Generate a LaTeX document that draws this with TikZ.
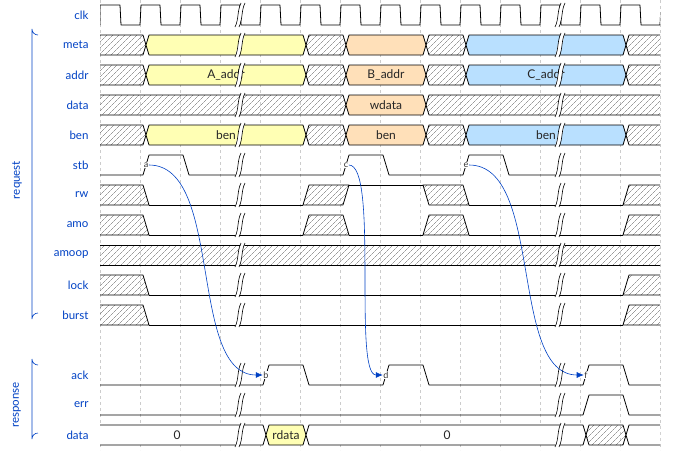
\documentclass[tikz,border=0pt]{standalone}
\usepackage{fontspec}
\setmainfont{Lato}
\usetikzlibrary{patterns.meta,arrows.meta}
\definecolor{wyel}{HTML}{FFFFB4}
\definecolor{wora}{HTML}{FFE0B9}
\definecolor{wblu}{HTML}{B9E0FF}
\definecolor{wlab}{HTML}{0041C4}
\definecolor{warr}{HTML}{0041C4}
\tikzset{
  sig/.style={draw=black,line width=0.8pt,line join=round},
  hatch/.style={sig,pattern={Lines[angle=45,distance=4pt,line width=0.4pt]},pattern color=gray!80!black},
  grid/.style={draw=gray!40,dashed,line width=0.4pt},
  lab/.style={text=wlab,anchor=east,font=\fontsize{11.5}{13}\selectfont},
  txt/.style={font=\fontsize{12}{14}\selectfont,text=black!85},
  evmark/.style={font=\fontsize{9}{10}\selectfont,inner sep=0.5pt,fill=white,text=black!80},
  conn/.style={draw=warr,line width=0.6pt,-{Latex[length=7pt,width=6pt]}},
}
% bus segment: x1,x2,y,style
\newcommand\tdbus[4]{\path[#4] (#1,#3) -- (#1+3,#3-10) -- (#2-3,#3-10) -- (#2,#3) -- (#2-3,#3+10) -- (#1+3,#3+10) -- cycle;}
\newcommand\tdgap[2]{\fill[white] (#1-5,#2+12) -- (#1-1,#2+12) -- (#1+5,#2-12) -- (#1+1,#2-12) -- cycle;
  \draw[line width=0.6pt] (#1-5,#2+12) .. controls (#1-1,#2+4) and (#1-3,#2-4) .. (#1+1,#2-12) (#1-1,#2+12) .. controls (#1+3,#2+4) and (#1+1,#2-4) .. (#1+5,#2-12);}
\begin{document}
\begin{tikzpicture}[x=1pt,y=-1pt]
\useasboundingbox (0,0) rectangle (680,450);
\foreach \k in {0,...,14} \draw[grid] (100+40*\k,0) -- (100+40*\k,450);
% labels
\foreach \n/\t/\y in {l1/clk/15,l2/meta/45,l3/addr/75,l4/data/105,l5/ben/135,l6/stb/165,l7/rw/195,l8/amo/225,l9/amoop/255,l10/lock/285,l11/burst/315,l12/ack/375,l13/err/405,l14/data/435}
  \node[lab] (\n) at (92,\y) {\t};
\draw[wlab,line width=0.6pt] (38,35) arc[start angle=90,end angle=180,radius=6] -- (32,319) arc[start angle=180,end angle=270,radius=6];
\node[text=wlab,rotate=90,font=\fontsize{11.5}{13}\selectfont] (req) at (17,180) {request};
\draw[wlab,line width=0.6pt] (38,365) arc[start angle=90,end angle=180,radius=6] -- (32,439) arc[start angle=180,end angle=270,radius=6];
\node[text=wlab,rotate=90,font=\fontsize{11.5}{13}\selectfont] (resp) at (17,405) {response};
\begin{scope}
\clip (100,0) rectangle (660,450);
% clk
\draw[sig] (100,25) -- (100,5) \foreach \k in {0,...,13} { -- (120+40*\k,5) -- (121+40*\k,25) -- (140+40*\k,25) -- (141+40*\k,5)};
% bus rows
\foreach \y in {45,75,135} {
  \tdbus{94}{146}{\y}{hatch}
  \tdbus{146}{306}{\y}{sig,fill=wyel}
  \tdbus{306}{346}{\y}{hatch}
  \tdbus{346}{426}{\y}{sig,fill=wora}
  \tdbus{426}{466}{\y}{hatch}
  \tdbus{466}{626}{\y}{sig,fill=wblu}
  \tdbus{626}{666}{\y}{hatch}
}
\node[txt] (ta) at (226,75) {A\_addr};
\node[txt] (tb) at (386,75) {B\_addr};
\node[txt] (tc) at (546,75) {C\_addr};
\node[txt] (ba) at (226,135) {ben};
\node[txt] (bb) at (386,135) {ben};
\node[txt] (bc) at (546,135) {ben};
\tdbus{94}{346}{105}{hatch}
\tdbus{346}{426}{105}{sig,fill=wora}
\tdbus{426}{666}{105}{hatch}
\node[txt] (wd) at (386,105) {wdata};
% stb
\draw[sig] (100,175) -- (143,175) -- (149,155) -- (183,155) -- (189,175) -- (343,175) -- (349,155) -- (383,155) -- (389,175) -- (463,175) -- (469,155) -- (503,155) -- (509,175) -- (660,175);
% rw
\path[hatch] (97,185) -- (143,185) -- (149,205) -- (97,205);
\path[hatch] (303,205) -- (309,185) -- (349,185) -- (343,205) -- cycle;
\path[hatch] (423,185) -- (429,205) -- (469,205) -- (463,185) -- cycle;
\path[hatch] (623,205) -- (629,185) -- (663,185) -- (663,205) -- cycle;
\draw[sig] (149,205) -- (303,205) (349,185) -- (423,185) (469,205) -- (623,205);
% amo
\path[hatch] (97,215) -- (143,215) -- (149,235) -- (97,235);
\path[hatch] (303,235) -- (309,215) -- (343,215) -- (349,235) -- cycle;
\path[hatch] (423,235) -- (429,215) -- (463,215) -- (469,235) -- cycle;
\path[hatch] (623,235) -- (629,215) -- (663,215) -- (663,235) -- cycle;
\draw[sig] (149,235) -- (303,235) (349,235) -- (423,235) (469,235) -- (623,235);
% amoop
\path[hatch] (97,245) rectangle (663,265);
% lock, burst
\foreach \y in {285,315} {
  \path[hatch] (97,\y-10) -- (143,\y-10) -- (149,\y+10) -- (97,\y+10);
  \path[hatch] (623,\y+10) -- (629,\y-10) -- (663,\y-10) -- (663,\y+10) -- cycle;
  \draw[sig] (149,\y+10) -- (623,\y+10);
}
% ack
\draw[sig] (100,385) -- (263,385) -- (269,365) -- (303,365) -- (309,385) -- (383,385) -- (389,365) -- (423,365) -- (429,385) -- (583,385) -- (589,365) -- (623,365) -- (629,385) -- (660,385);
% err
\draw[sig] (100,415) -- (583,415) -- (589,395) -- (623,395) -- (629,415) -- (660,415);
% data response
\tdbus{94}{266}{435}{sig,fill=white}
\tdbus{266}{306}{435}{sig,fill=wyel}
\tdbus{306}{586}{435}{sig,fill=white}
\tdbus{586}{626}{435}{hatch}
\tdbus{626}{666}{435}{sig,fill=white}
\node[txt] (d0) at (177,435) {0};
\node[txt,inner sep=1pt] (rd) at (286,435) {rdata};
\node[txt] (d1) at (447,435) {0};
% gaps
\foreach \y in {15,45,75,105,135,165,195,225,255,285,315,375,405,435} {\tdgap{240}{\y}\tdgap{560}{\y}}
\end{scope}
% markers
\node[evmark] (a) at (146,165) {a};
\node[evmark] (c) at (346,165) {c};
\node[evmark] (e) at (466,165) {e};
\node[evmark] (b) at (266,375) {b};
\node[evmark] (d) at (386,375) {d};
\node[evmark] (f) at (586,375) {f};
\draw[conn] (a.east) .. controls +(75,0) and +(-75,0) .. (b.west);
\draw[conn] (c.east) .. controls +(30,0) and +(-30,0) .. (d.west);
\draw[conn] (e.east) .. controls +(75,0) and +(-75,0) .. (f.west);
\end{tikzpicture}
\end{document}
